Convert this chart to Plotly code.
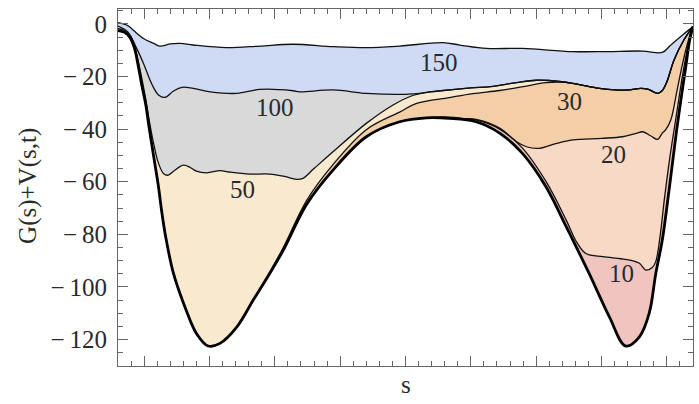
import plotly.graph_objects as go

# ---------------- data (x in major-tick units, y = G(s)+V(s,t)) ----------------
G_x = [-0.40, -0.30, -0.22, -0.15, -0.09, -0.03, 0.02, 0.08, 0.15, 0.22, 0.27, 0.33, 0.45, 0.63, 0.80,
       0.98, 1.16, 1.42, 1.67, 1.92, 2.13, 2.49, 2.89, 3.40, 3.91, 4.32, 4.67, 5.08, 5.44, 5.79,
       6.15, 6.46, 6.81, 7.12, 7.37, 7.58, 7.73, 7.83, 7.93, 8.04, 8.15, 8.22, 8.29, 8.35, 8.40]
G_y = [-2.5, -3.2, -5.0, -9.0, -16.0, -24.0, -30.0, -40.0, -51.0, -62.0, -71.5, -81.0, -95.0, -108.0, -117.7,
       -122.5, -121.5, -115.2, -105.0, -95.0, -86.0, -68.5, -55.6, -42.9, -37.2, -35.7, -35.9, -37.2, -41.5, -49.2,
       -61.9, -77.1, -94.9, -111.4, -122.5, -119.0, -110.0, -95.0, -82.2, -61.9, -40.3, -28.0, -16.2, -6.0, -1.0]

t10_x = [4.90, 5.08, 5.44, 5.79, 6.15, 6.46, 6.62, 6.76, 7.02, 7.30, 7.47, 7.58, 7.68, 7.78, 7.83,
         7.90, 7.96, 8.05, 8.15, 8.25, 8.35, 8.40]
t10_y = [-36.2, -36.5, -40.0, -47.2, -59.9, -74.6, -83.0, -87.3, -88.5, -89.3, -90.0, -91.0, -93.6, -92.5, -90.4,
         -80.0, -67.0, -50.0, -34.0, -18.0, -5.5, -1.0]

t20_x = [4.67, 4.90, 5.08, 5.44, 5.70, 5.85, 6.05, 6.30, 6.56, 7.00, 7.32, 7.53, 7.63, 7.75, 7.86,
         7.93, 7.98, 8.06, 8.15, 8.25, 8.35, 8.40]
t20_y = [-35.4, -36.0, -36.3, -39.6, -44.8, -46.7, -47.3, -45.5, -44.1, -43.5, -42.9, -41.6, -41.0, -42.5, -43.9,
         -41.5, -40.3, -36.5, -26.0, -14.0, -4.5, -1.0]

top_x = [4.30, 4.50, 5.00, 5.30, 5.70, 6.00, 6.20, 6.56, 6.97, 7.22, 7.42, 7.60, 7.72, 7.86, 7.93,
         8.00, 8.11, 8.26, 8.40]
top_y = [-26.1, -25.5, -24.3, -23.8, -22.3, -21.4, -21.5, -22.6, -24.5, -25.1, -25.1, -24.5, -24.9, -26.4, -25.3,
         -22.0, -13.7, -6.1, -1.0]

t30_x = [1.92, 2.13, 2.49, 2.89, 3.40, 3.91, 4.17, 4.67, 5.03, 5.44, 5.80, 6.15, 6.40]
t30_y = [-94.5, -85.0, -67.0, -53.5, -40.2, -33.5, -30.2, -28.0, -26.5, -25.3, -23.8, -22.3, -22.1]

t50_x = [-0.40, -0.30, -0.20, -0.12, -0.05, 0.02, 0.08, 0.15, 0.22, 0.30, 0.37, 0.45, 0.60, 0.70, 0.80,
         0.96, 1.16, 1.30, 1.62, 1.92, 2.15, 2.33, 2.43, 2.60, 2.89, 3.40, 3.81, 4.11]
t50_y = [-1.8, -2.5, -5.0, -11.0, -19.0, -28.0, -37.0, -46.0, -53.0, -57.0, -57.5, -56.0, -53.7, -54.5, -56.0,
         -56.6, -55.8, -56.3, -57.1, -57.1, -58.0, -59.1, -58.7, -55.0, -48.6, -37.8, -30.8, -27.2]

t100_x = [-0.40, -0.25, -0.12, -0.01, 0.12, 0.22, 0.32, 0.45, 0.58, 0.75, 1.01, 1.42, 1.77, 2.28, 2.38,
          2.89, 3.40, 3.91, 4.10]
t100_y = [-0.8, -3.0, -9.0, -15.0, -23.0, -27.0, -27.9, -25.5, -24.1, -24.5, -25.8, -26.4, -24.9, -25.4, -25.8,
          -25.1, -26.4, -26.8, -26.6]

t150_x = [-0.40, -0.25, -0.16, -0.01, 0.14, 0.24, 0.40, 0.55, 0.75, 1.26, 1.77, 2.28, 2.89, 3.40, 3.91,
          4.57, 4.83, 5.24, 5.79, 6.56, 7.07, 7.63, 7.93, 8.06, 8.25, 8.40]
t150_y = [0.5, -0.6, -2.5, -5.5, -7.3, -8.4, -7.6, -7.4, -8.0, -9.0, -8.4, -7.7, -8.6, -9.0, -8.4,
          -7.1, -8.0, -9.3, -9.3, -10.5, -10.5, -10.3, -10.8, -8.0, -4.0, -1.0]

labels = ["10", "20", "30", "50", "100", "150"]
label_x = [7.30, 7.19, 6.51, 1.51, 2.01, 4.51]
label_y = [-94.9, -49.5, -29.6, -62.9, -31.7, -14.6]

y_tickvals = [0, -20, -40, -60, -80, -100, -120]
y_ticktext = ["0", "\u2212\u200920", "\u2212\u200940", "\u2212\u200960", "\u2212\u200980",
              "\u2212\u2009100", "\u2212\u2009120"]

# curves assembled from the read segments (where a curve coincides with G, G's points are reused)
c10_x = G_x[:27] + t10_x
c10_y = G_y[:27] + t10_y
c20_x = G_x[:26] + t20_x
c20_y = G_y[:26] + t20_y
c30_x = G_x[:19] + t30_x + top_x[7:]
c30_y = G_y[:19] + t30_y + top_y[7:]
c50_x = t50_x + top_x
c50_y = t50_y + top_y
c100_x = t100_x + top_x
c100_y = t100_y + top_y

FONT = "Liberation Serif"
SM = 1.0
curves = [
    (G_x, G_y, None),
    (c10_x, c10_y, "#f0c4bf"),
    (c20_x, c20_y, "#f8d9c5"),
    (c30_x, c30_y, "#f3cea6"),
    (c50_x, c50_y, "#f9e9cf"),
    (c100_x, c100_y, "#d9d9d9"),
    (t150_x, t150_y, "#cfdbf4"),
]

fig = go.Figure()
for xs, ys, col in curves:
    fig.add_trace(go.Scatter(
        x=xs, y=ys, mode="lines",
        line=dict(width=0, shape="spline", smoothing=SM),
        fill=None if col is None else "tonexty",
        fillcolor=col, hoverinfo="skip"))
for xs, ys, col in curves[1:]:
    fig.add_trace(go.Scatter(x=xs, y=ys, mode="lines",
                             line=dict(width=1.3, color="#111", shape="spline", smoothing=SM)))
fig.add_trace(go.Scatter(x=G_x, y=G_y, mode="lines",
                         line=dict(width=2.8, color="#000", shape="spline", smoothing=SM)))

for t, lx, ly in zip(labels, label_x, label_y):
    fig.add_annotation(x=lx, y=ly, text=t, showarrow=False,
                       font=dict(family=FONT, size=25, color="#2a2a2a"))

fig.add_annotation(x=0.5, y=-0.052, xref="paper", yref="paper", text="s", showarrow=False,
                   font=dict(family=FONT, size=25, color="#2a2a2a"), yanchor="middle")
fig.add_annotation(x=-0.184, y=0.505, xref="paper", yref="paper", text="G(s)+V(s,t)",
                   showarrow=False, textangle=-90, font=dict(family=FONT, size=25, color="#2a2a2a"))

axcommon = dict(showline=True, linecolor="#666", linewidth=1, mirror="ticks",
                ticks="inside", ticklen=10, tickwidth=1, tickcolor="#666",
                showgrid=False, zeroline=False)
fig.update_xaxes(range=[-0.4, 8.4], tick0=0, dtick=1, showticklabels=False,
                 minor=dict(ticks="inside", ticklen=5, dtick=0.2, tick0=0, tickcolor="#666", showgrid=False),
                 **axcommon)
fig.update_yaxes(range=[-130.1, 5.7], tickmode="array", tickvals=y_tickvals, ticktext=y_ticktext,
                 ticklabelstandoff=5,
                 tickfont=dict(family=FONT, size=25, color="#2a2a2a"),
                 minor=dict(ticks="inside", ticklen=5, dtick=5, tick0=0, tickcolor="#666", showgrid=False),
                 **axcommon)

fig.update_layout(width=699, height=404, margin=dict(l=118, r=6, t=9, b=38),
                  paper_bgcolor="white", plot_bgcolor="white", showlegend=False,
                  font=dict(family=FONT, size=25, color="#2a2a2a"))

fig.write_html("out.html")
